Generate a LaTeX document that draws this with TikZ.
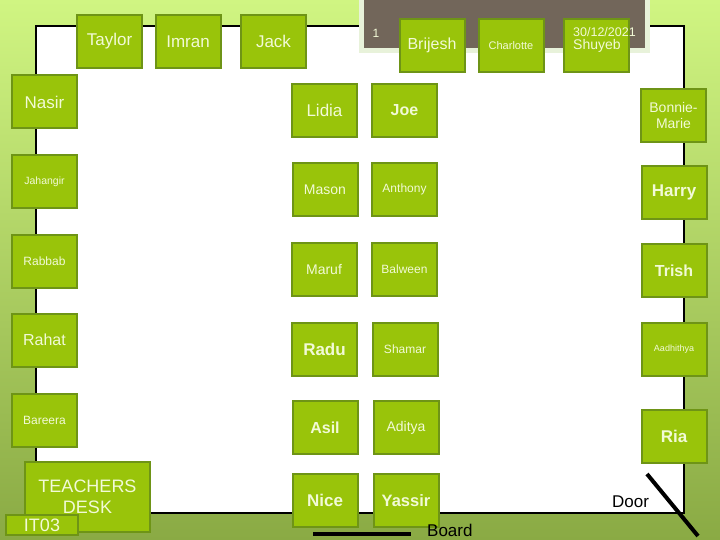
\documentclass[tikz,border=0pt]{standalone}
\usepackage{fontspec}
\setmainfont{Liberation Sans}
\definecolor{seatfill}{RGB}{153,196,10}
\definecolor{seatborder}{RGB}{110,148,22}
\definecolor{seattext}{RGB}{242,250,215}
\definecolor{panel}{RGB}{114,102,90}
\definecolor{panelframe}{RGB}{232,242,218}
\definecolor{bgtop}{RGB}{208,245,130}
\definecolor{bgmid}{RGB}{178,220,102}
\definecolor{bgbot}{RGB}{138,170,68}
\newcommand{\fs}[1]{\fontsize{#1}{#1}\selectfont}
\begin{document}
\begin{tikzpicture}[x=1pt,y=-1pt,
  seat/.style={draw=seatborder, fill=seatfill, line width=2pt,
    minimum width=65pt, minimum height=53pt, inner sep=0pt,
    text=seattext, align=center, font=\fs{12}},
  big/.style={font=\fs{17}},
  bigb/.style={font=\fs{17}\bfseries},
  mid/.style={font=\fs{14}},
  lab/.style={text=black, font=\fs{17}, inner sep=0pt}]
\useasboundingbox (0,0) rectangle (720,540);
\shade[top color=bgtop, middle color=bgmid, bottom color=bgbot] (0,0) rectangle (720,540);
% room
\draw[fill=white, line width=1.3pt] (36,26) rectangle (684,513);
% top panel
\draw[draw=panelframe, fill=panel, line width=5pt] (361.5,-5) rectangle (647.5,50.5);
\node[text=seattext, font=\fs{12}, inner sep=0pt] (num) at (376,33) {1};
% top row
\node[seat, big] (taylor) at (109.5,41.5) {Taylor};
\node[seat, big] (imran) at (188,41.5) {Imran};
\node[seat, big] (jack) at (273.5,41.5) {Jack};
\node[seat, font=\fs{16}] (brijesh) at (432,45.5) {Brijesh};
\node[seat, font=\fs{11}] (charlotte) at (511,45.5) {Charlotte};
\node[seat] (shuyeb) at (596,45.5) {};
\node[text=seattext, font=\fs{12.5}, inner sep=0pt, anchor=base west] (date) at (573,37) {30/12/2021};
\node[text=seattext, font=\fs{14}, inner sep=0pt, anchor=base west] (shuyebt) at (573,50) {Shuyeb};
% left column
\node[seat, big] (nasir) at (44.5,102) {Nasir};
\node[seat, font=\fs{10.5}] (jahangir) at (44.5,181.5) {Jahangir};
\node[seat] (rabbab) at (44.5,261.5) {Rabbab};
\node[seat, font=\fs{16}] (rahat) at (44.5,340) {Rahat};
\node[seat] (bareera) at (44.5,420) {Bareera};
% middle columns
\node[seat, big] (lidia) at (324.5,110.5) {Lidia};
\node[seat, font=\fs{16}\bfseries] (joe) at (404.5,110.5) {Joe};
\node[seat, mid] (mason) at (325,189.5) {Mason};
\node[seat] (anthony) at (404.5,189.5) {Anthony};
\node[seat, mid] (maruf) at (324,269.5) {Maruf};
\node[seat] (balween) at (404.5,269.5) {Balween};
\node[seat, bigb] (radu) at (324.5,349) {Radu};
\node[seat] (shamar) at (405,349) {Shamar};
\node[seat, font=\fs{16}\bfseries] (asil) at (325,427.5) {Asil};
\node[seat, mid] (aditya) at (406,427.5) {Aditya};
\node[seat, bigb] (nice) at (325,500) {Nice};
\node[seat, font=\fs{16.5}\bfseries] (yassir) at (406,500.5) {Yassir};
% right column
\node[seat, font=\fs{14}] (bonnie) at (673.5,115.5) {Bonnie-\\[2pt]Marie};
\node[seat, bigb] (harry) at (674,192.5) {Harry};
\node[seat, font=\fs{16}\bfseries] (trish) at (674,270.5) {Trish};
\node[seat, font=\fs{9}] (aadhithya) at (674,349.5) {Aadhithya};
\node[seat, bigb] (ria) at (674,436) {Ria};
% teacher desk
\node[seat, minimum width=125pt, minimum height=70pt, font=\fs{18}] (desk) at (87.5,497) {TEACHERS\\[3pt]DESK};
\node[seat, minimum width=72pt, minimum height=20pt, font=\fs{18}] (it03) at (42,525) {IT03};
% board
\coordinate (b1) at (313,534);
\coordinate (b2) at (411,534);
\draw[line width=4pt] (b1) -- (b2);
\node[lab, anchor=base west] (board) at (427,536) {Board};
% door
\coordinate (d1) at (647,474);
\coordinate (d2) at (698,536);
\draw[line width=4pt] (d1) -- (d2);
\node[lab, anchor=base west] (door) at (612,507) {Door};
\end{tikzpicture}
\end{document}
